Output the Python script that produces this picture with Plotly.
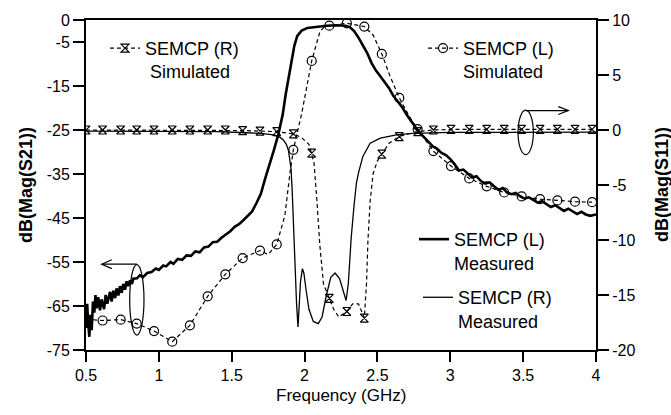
import plotly.graph_objects as go

# ---------------- data ----------------
# common frequency grid of the simulated curves (GHz)
freq_sim = [0.5, 0.614, 0.738, 0.848, 0.967, 1.092, 1.213, 1.335, 1.456, 1.575,
            1.694, 1.809, 1.923, 2.049, 2.17, 2.29, 2.41, 2.53, 2.65, 2.776,
            2.884, 3.005, 3.13, 3.25, 3.37, 3.49, 3.616, 3.735, 3.856, 3.973]

# SEMCP (L) simulated, |S21| in dB (left axis)
sim_L_s21 = [-68.0, -68.3, -68.1, -69.0, -70.7, -73.1, -69.4, -62.8, -57.8, -54.1,
             -52.4, -51.0, -29.5, -9.3, -1.3, -0.75, -1.5, -7.7, -17.7, -24.8,
             -29.8, -33.2, -36.0, -37.8, -39.2, -40.1, -40.7, -41.0, -41.3, -41.4]
# intermediate points of the simulated (L) curve between grid samples
sim_L_mid_freq = [1.75, 1.865, 1.9, 1.98, 2.02, 2.08, 2.106, 2.14, 2.47, 2.586, 2.72]
sim_L_mid_s21 = [-53.3, -44.4, -34.7, -21.3, -13.8, -5.6, -2.6, -1.4, -3.4, -12.7, -22.0]

# SEMCP (R) simulated, |S11| in dB (right axis)
sim_R_s11 = [0.0, 0.0, 0.0, 0.0, 0.0, 0.0, 0.0, 0.0, 0.0, -0.05,
             -0.1, -0.15, -0.35, -2.1, -15.3, -16.5, -17.1, -2.2, -0.6, -0.15,
             0.0, 0.05, 0.05, 0.05, 0.05, 0.05, 0.05, 0.05, 0.05, 0.05]
sim_R_mid_freq = [1.98, 2.03, 2.065, 2.085, 2.105, 2.13, 2.2, 2.235, 2.33, 2.37,
                  2.425, 2.435, 2.45, 2.47, 2.5, 2.58, 2.71]
sim_R_mid_s11 = [-0.7, -1.3, -3.0, -6.5, -10.5, -14.0, -16.3, -17.0, -15.8, -15.8,
                 -14.0, -10.0, -6.5, -4.0, -2.8, -1.2, -0.35]

# SEMCP (L) measured, |S21| in dB (left axis)
meas_L_freq = [0.5, 0.508, 0.515, 0.523, 0.53, 0.539, 0.548, 0.557, 0.565, 0.573,
               0.584, 0.596, 0.607, 0.624, 0.635, 0.646, 0.665, 0.676, 0.687, 0.7,
               0.71, 0.722, 0.733, 0.745, 0.756, 0.768, 0.779, 0.79, 0.802, 0.815,
               0.825, 0.85, 0.87, 0.89, 0.92, 0.95, 0.98, 1.0, 1.03, 1.05,
               1.08, 1.1, 1.13, 1.16, 1.19, 1.22, 1.25, 1.28, 1.31, 1.34,
               1.37, 1.4, 1.43, 1.46, 1.49, 1.52, 1.55, 1.58, 1.61, 1.64,
               1.67, 1.7, 1.73, 1.76, 1.79, 1.82, 1.85, 1.87, 1.89, 1.91,
               1.93, 1.95, 1.98, 2.02, 2.08, 2.15, 2.22, 2.28, 2.31, 2.34,
               2.37, 2.4, 2.43, 2.46, 2.49, 2.52, 2.55, 2.58, 2.61, 2.64,
               2.67, 2.7, 2.73, 2.76, 2.79, 2.82, 2.85, 2.88, 2.91, 2.94,
               2.97, 3.0, 3.03, 3.06, 3.09, 3.12, 3.15, 3.18, 3.21, 3.24,
               3.27, 3.3, 3.33, 3.36, 3.39, 3.42, 3.45, 3.48, 3.51, 3.54,
               3.57, 3.6, 3.63, 3.66, 3.69, 3.72, 3.75, 3.78, 3.81, 3.84,
               3.87, 3.9, 3.93, 3.96, 4.0]
meas_L_s21 = [-70.0, -64.5, -69.0, -72.0, -67.0, -70.5, -64.0, -66.5, -62.5, -65.5,
              -63.0, -66.0, -63.5, -65.7, -62.5, -64.5, -61.8, -64.0, -61.5, -63.2,
              -61.0, -62.6, -60.5, -62.0, -60.0, -61.3, -59.4, -60.5, -59.2, -60.0,
              -58.8, -58.7, -58.0, -58.5, -57.5, -57.3, -56.5, -56.8, -55.8, -56.0,
              -55.0, -55.4, -54.3, -54.5, -53.5, -53.6, -52.6, -52.8, -51.7, -51.5,
              -50.5, -50.4, -49.5, -48.8, -48.0, -47.0, -46.4, -45.5, -44.4, -43.5,
              -41.6, -39.5, -36.0, -33.0, -29.5, -26.0, -21.5, -17.0, -13.0, -9.0,
              -5.8, -3.6, -2.4, -1.8, -1.5, -1.3, -1.2, -1.3, -1.6, -2.5,
              -4.0, -5.6, -7.5, -9.8, -11.5, -12.8, -14.2, -15.5, -17.3, -18.6,
              -19.8, -21.5, -23.0, -24.3, -25.6, -26.7, -27.8, -28.7, -29.3, -30.2,
              -30.7, -31.6, -32.8, -34.2, -34.0, -34.8, -35.8, -35.5, -36.6, -37.2,
              -36.9, -37.8, -38.6, -38.2, -39.2, -39.6, -39.3, -40.1, -40.6, -40.3,
              -41.0, -41.5, -41.2, -41.8, -42.5, -42.1, -42.8, -43.4, -42.9, -43.5,
              -44.1, -43.6, -44.2, -44.5, -44.2]

# SEMCP (R) measured, |S11| in dB (right axis)
meas_R_freq = [0.5, 1.0, 1.4, 1.6, 1.7, 1.786, 1.83, 1.854, 1.875, 1.89,
               1.9, 1.907, 1.915, 1.925, 1.935, 1.945, 1.955, 1.962, 1.972, 1.985,
               1.995, 2.01, 2.03, 2.06, 2.094, 2.12, 2.15, 2.18, 2.209, 2.24,
               2.265, 2.285, 2.3, 2.32, 2.34, 2.356, 2.37, 2.4, 2.45, 2.52,
               2.63, 2.745, 3.0, 3.5, 4.0]
meas_R_s11 = [-0.1, -0.1, -0.15, -0.25, -0.3, -0.45, -0.65, -0.9, -1.3, -1.9,
              -2.7, -3.5, -5.5, -9.0, -12.8, -15.8, -17.9, -16.5, -13.8, -12.6,
              -13.0, -14.5, -16.3, -17.4, -17.6, -17.0, -15.0, -13.4, -13.0, -13.5,
              -14.6, -15.5, -14.0, -9.8, -6.8, -4.8, -3.9, -2.4, -1.2, -0.74,
              -0.45, -0.3, -0.22, -0.2, -0.2]

# axis ticks
x_ticks = [0.5, 1, 1.5, 2, 2.5, 3, 3.5, 4]
x_tick_text = ["0.5", "1", "1.5", "2", "2.5", "3", "3.5", "4"]
left_ticks = [0, -5, -15, -25, -35, -45, -55, -65, -75]
left_tick_text = ["0", "-5", "-15", "-25", "-35", "-45", "-55", "-65", "-75"]
right_ticks = [10, 5, 0, -5, -10, -15, -20]
right_tick_text = ["10", "5", "0", "-5", "-10", "-15", "-20"]

# ---------------- styling ----------------
FONT = "Liberation Sans, Arial, Helvetica, sans-serif"
INK = "black"
DASH = "4px,3px"


def merged(xs_a, ys_a, xs_b, ys_b):
    pts = sorted(zip(list(xs_a) + list(xs_b), list(ys_a) + list(ys_b)))
    return [p[0] for p in pts], [p[1] for p in pts]


fig = go.Figure()

# simulated (R) S11: dashed curve + hourglass markers
rx, ry = merged(freq_sim, sim_R_s11, sim_R_mid_freq, sim_R_mid_s11)
fig.add_trace(go.Scatter(x=rx, y=ry, yaxis="y2", mode="lines",
                         line=dict(color=INK, width=1.2, dash=DASH),
                         showlegend=False, hoverinfo="skip"))
fig.add_trace(go.Scatter(x=freq_sim, y=sim_R_s11, yaxis="y2", mode="markers",
                         marker=dict(symbol="hourglass-open", size=8, color=INK,
                                     line=dict(width=1.2, color=INK)),
                         showlegend=False))

# measured (R) S11: thin solid
fig.add_trace(go.Scatter(x=meas_R_freq, y=meas_R_s11, yaxis="y2", mode="lines",
                         line=dict(color=INK, width=1.3),
                         name="SEMCP (R)<br>Measured", legend="legend4",
                         showlegend=True))

# simulated (L) S21: dashed curve + circle markers
lx, ly = merged(freq_sim, sim_L_s21, sim_L_mid_freq, sim_L_mid_s21)
fig.add_trace(go.Scatter(x=lx, y=ly, mode="lines",
                         line=dict(color=INK, width=1.2, dash=DASH),
                         showlegend=False, hoverinfo="skip"))
fig.add_trace(go.Scatter(x=freq_sim, y=sim_L_s21, mode="markers",
                         marker=dict(symbol="circle-open", size=9, color=INK,
                                     line=dict(width=1.2, color=INK)),
                         showlegend=False))

# measured (L) S21: thick solid
fig.add_trace(go.Scatter(x=meas_L_freq, y=meas_L_s21, mode="lines",
                         line=dict(color=INK, width=2.6),
                         name="SEMCP (L)<br>Measured", legend="legend3",
                         showlegend=True))

# legend keys for the simulated curves (line + marker)
fig.add_trace(go.Scatter(x=[None], y=[None], mode="lines+markers",
                         line=dict(color=INK, width=1.2, dash=DASH),
                         marker=dict(symbol="hourglass-open", size=8, color=INK,
                                     line=dict(width=1.2, color=INK)),
                         name="SEMCP (R)<br>\u00a0Simulated", legend="legend",
                         showlegend=True))
fig.add_trace(go.Scatter(x=[None], y=[None], mode="lines+markers",
                         line=dict(color=INK, width=1.2, dash=DASH),
                         marker=dict(symbol="circle-open", size=9, color=INK,
                                     line=dict(width=1.2, color=INK)),
                         name="SEMCP (L)<br>Simulated", legend="legend2",
                         showlegend=True))

# ---------------- call-outs: ellipses with arrows ----------------
shape_line = dict(color=INK, width=1.2)
shapes = [
    # S21 group -> left axis
    dict(type="circle", xref="x", yref="y", x0=0.80, x1=0.898, y0=-71.6, y1=-55.6,
         line=shape_line),
    dict(type="path", xref="x", yref="y", path="M 0.849,-55.5 L 0.608,-55.5",
         line=shape_line),
    dict(type="path", xref="x", yref="y",
         path="M 0.677,-54.5 L 0.608,-55.5 L 0.677,-56.5", line=shape_line),
    # S11 group -> right axis
    dict(type="circle", xref="x", yref="y2", x0=3.465, x1=3.57, y0=-2.24, y1=1.8,
         line=shape_line),
    dict(type="path", xref="x", yref="y2", path="M 3.517,1.77 L 3.81,1.77",
         line=shape_line),
    dict(type="path", xref="x", yref="y2",
         path="M 3.741,2.13 L 3.81,1.77 L 3.741,1.41", line=shape_line),
]

legend_common = dict(bgcolor="rgba(0,0,0,0)", borderwidth=0, valign="top",
                     xanchor="left", yanchor="top", itemwidth=30,
                     font=dict(family=FONT, size=18, color=INK))

axis_common = dict(showline=True, linecolor=INK, linewidth=2, ticks="outside",
                   tickwidth=2, tickcolor=INK, showgrid=False,
                   zeroline=False, tickfont=dict(family=FONT, size=16, color=INK))

fig.update_layout(
    width=671, height=415,
    margin=dict(l=86, r=75, t=15, b=65),
    paper_bgcolor="white", plot_bgcolor="white",
    font=dict(family=FONT, size=16, color=INK),
    xaxis=dict(range=[0.5, 4], tickvals=x_ticks, ticktext=x_tick_text,
               mirror=True, ticklen=10, **axis_common),
    yaxis=dict(range=[-75, 0], tickvals=left_ticks, ticktext=left_tick_text,
               ticklen=11, **axis_common),
    yaxis2=dict(range=[-20, 10], tickvals=right_ticks, ticktext=right_tick_text,
                overlaying="y", side="right", ticklen=11, **axis_common),
    legend=dict(x=(105 - 86) / 510, y=(350 - 25) / 335, **legend_common),
    legend2=dict(x=(423 - 86) / 510, y=(350 - 25) / 335, **legend_common),
    legend3=dict(x=(414 - 86) / 510, y=(350 - 219) / 335, **legend_common),
    legend4=dict(x=(418 - 86) / 510, y=(350 - 278) / 335, **legend_common),
    shapes=shapes,
    annotations=[
        dict(text="Frequency (GHz)", xref="paper", yref="paper", x=0.5, y=0,
             xanchor="center", yanchor="middle", yshift=-45, showarrow=False,
             font=dict(family=FONT, size=17, color=INK)),
        dict(text="<b>dB(Mag(S21))</b>", xref="paper", yref="paper", x=0, y=0.5,
             xanchor="center", yanchor="middle", xshift=-60, textangle=-90,
             showarrow=False, font=dict(family=FONT, size=18, color=INK)),
        dict(text="<b>dB(Mag(S11))</b>", xref="paper", yref="paper", x=1, y=0.5,
             xanchor="center", yanchor="middle", xshift=66, textangle=-90,
             showarrow=False, font=dict(family=FONT, size=18, color=INK)),
    ],
)

fig.write_html("out.html")
